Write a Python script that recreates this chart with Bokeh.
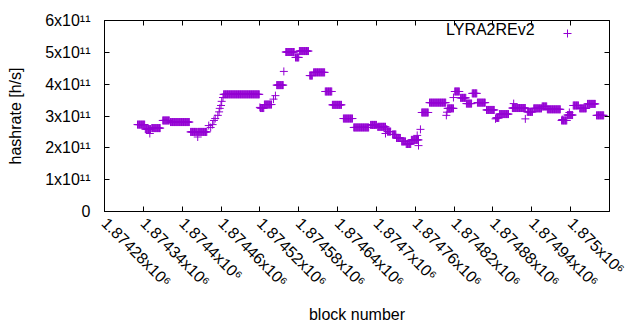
import math
from bokeh.plotting import figure
from bokeh.models import (ColumnDataSource, FixedTicker, LinearAxis, Legend,
                          LegendItem, Range1d, CustomLabelingPolicy, Label)
from bokeh.embed import file_html
from bokeh.resources import INLINE

# ---- data: runs of consecutive blocks sharing one hashrate ----
run_first_block = [
    1874331, 1874343, 1874350, 1874353, 1874370, 1874382, 1874413, 1874424, 1874424,
    1874441, 1874444, 1874447, 1874449, 1874451, 1874455, 1874457, 1874458, 1874460,
    1874461, 1874463, 1874464, 1874520, 1874521, 1874527, 1874541, 1874544, 1874546,
    1874557, 1874560, 1874575, 1874581, 1874597, 1874603, 1874621, 1874632, 1874649,
    1874665, 1874691, 1874702, 1874714, 1874716, 1874717, 1874725, 1874731, 1874739,
    1874746, 1874754, 1874763, 1874765, 1874768, 1874770, 1874782, 1874808, 1874809,
    1874810, 1874819, 1874821, 1874830, 1874839, 1874848, 1874856, 1874870, 1874884,
    1874885, 1874890, 1874912, 1874910, 1874930, 1874933, 1874943, 1874956, 1874964,
    1874987, 1874986, 1874998, 1874995, 1875004, 1875014, 1875026, 1875040,
]
run_last_block = [
    1874342, 1874351, 1874350, 1874366, 1874380, 1874411, 1874422, 1874424, 1874438,
    1874441, 1874444, 1874447, 1874449, 1874451, 1874455, 1874457, 1874458, 1874460,
    1874461, 1874463, 1874519, 1874520, 1874526, 1874538, 1874541, 1874544, 1874556,
    1874557, 1874573, 1874580, 1874595, 1874601, 1874620, 1874631, 1874646, 1874663,
    1874688, 1874700, 1874714, 1874714, 1874716, 1874722, 1874730, 1874737, 1874745,
    1874753, 1874765, 1874763, 1874765, 1874768, 1874780, 1874807, 1874808, 1874809,
    1874819, 1874819, 1874828, 1874838, 1874847, 1874855, 1874868, 1874882, 1874884,
    1874889, 1874904, 1874912, 1874930, 1874930, 1874941, 1874955, 1874963, 1874984,
    1874987, 1874994, 1874998, 1875003, 1875012, 1875024, 1875038, 1875051,
]
run_hashrate = [
    2.73e11, 2.59e11, 2.45e11, 2.62e11, 2.86e11, 2.81e11, 2.50e11, 2.34e11, 2.50e11,
    2.70e11, 2.64e11, 2.73e11, 2.86e11, 2.92e11, 3.02e11, 3.13e11, 3.24e11, 3.33e11,
    3.46e11, 3.58e11, 3.68e11, 3.27e11, 3.25e11, 3.36e11, 3.53e11, 3.64e11, 3.97e11,
    4.40e11, 5.01e11, 4.84e11, 5.04e11, 4.27e11, 4.37e11, 3.77e11, 3.35e11, 2.92e11,
    2.64e11, 2.72e11, 2.66e11, 2.45e11, 2.59e11, 2.51e11, 2.42e11, 2.31e11, 2.20e11,
    2.12e11, 2.25e11, 2.39e11, 2.07e11, 2.58e11, 3.11e11, 3.42e11, 3.02e11, 3.12e11,
    3.24e11, 3.58e11, 3.77e11, 3.57e11, 3.39e11, 3.71e11, 3.42e11, 3.19e11, 2.91e11,
    2.94e11, 3.06e11, 3.39e11, 3.25e11, 2.91e11, 3.13e11, 3.24e11, 3.30e11, 3.21e11,
    2.89e11, 2.86e11, 3.11e11, 3.03e11, 3.33e11, 3.24e11, 3.38e11, 3.02e11,
]

x_tick_blocks = [1874280, 1874340, 1874400, 1874460, 1874520, 1874580, 1874640,
                 1874700, 1874760, 1874820, 1874880, 1874940, 1875000, 1875060]
x_tick_labels = ["1.87428x10⁶", "1.87434x10⁶", "1.8744x10⁶", "1.87446x10⁶",
                 "1.87452x10⁶", "1.87458x10⁶", "1.87464x10⁶", "1.8747x10⁶",
                 "1.87476x10⁶", "1.87482x10⁶", "1.87488x10⁶", "1.87494x10⁶",
                 "1.875x10⁶", "1.87506x10⁶"]
y_tick_values = [0, 100000000000, 200000000000, 300000000000, 400000000000,
                 500000000000, 600000000000]
y_tick_labels = ["0", "1x10¹¹", "2x10¹¹", "3x10¹¹", "4x10¹¹", "5x10¹¹", "6x10¹¹"]

series_name = "LYRA2REv2"
x_title = "block number"
y_title = "hashrate [h/s]"

# expand runs into one point per block
blocks, rates = [], []
for f, l, h in zip(run_first_block, run_last_block, run_hashrate):
    for b in range(f, l + 1):
        blocks.append(b)
        rates.append(h)
src = ColumnDataSource(data=dict(block=blocks, rate=rates))

FONT = "Liberation Sans"
FS = "16px"
COLOR = "#9400D3"
ANGLE = -math.pi / 4

p = figure(width=640, height=330, output_backend="svg", toolbar_location=None,
           x_range=Range1d(x_tick_blocks[0], x_tick_blocks[-1]),
           y_range=Range1d(y_tick_values[0], y_tick_values[-1]),
           min_border_left=104, min_border_right=31, min_border_top=20,
           min_border_bottom=119)
p.outline_line_color = "black"
p.outline_line_alpha = 1
p.outline_line_width = 1
p.xgrid.visible = False
p.ygrid.visible = False
p.background_fill_color = "white"
p.border_fill_color = "white"

r = p.scatter(x="block", y="rate", source=src, marker="cross", size=8,
              line_color=COLOR, line_width=1)

def style_axis(ax):
    ax.major_tick_in = 5
    ax.major_tick_out = 0
    ax.minor_tick_line_color = None
    ax.axis_line_color = "black"
    ax.major_tick_line_color = "black"
    ax.major_label_text_font = FONT
    ax.major_label_text_font_size = FS
    ax.major_label_text_color = "black"
    ax.axis_label_text_font = FONT
    ax.axis_label_text_font_size = FS
    ax.axis_label_text_font_style = "normal"
    ax.axis_label_text_color = "black"

xa = p.xaxis[0]
ya = p.yaxis[0]
style_axis(xa)
style_axis(ya)
# bottom axis labels all ticks but the last (which sits at the canvas edge)
xa.ticker = FixedTicker(ticks=x_tick_blocks[:-1])
xa.major_label_overrides = dict(zip(x_tick_blocks[:-1], x_tick_labels[:-1]))
xa.major_label_orientation = ANGLE
xa.major_label_standoff = 9
xa.axis_label = x_title
xa.axis_label_standoff = 7
ya.ticker = FixedTicker(ticks=y_tick_values)
ya.major_label_overrides = dict(zip(y_tick_values, y_tick_labels))
ya.major_label_standoff = 14
ya.axis_label = y_title
ya.axis_label_standoff = 18

# last x tick label, running off the right edge as in the reference
last_lbl = Label(x=x_tick_blocks[-1], y=-9, y_units="screen",
                 text=x_tick_labels[-1], angle=ANGLE, text_align="left",
                 text_baseline="middle", text_font=FONT, text_font_size=FS,
                 text_color="black")
p.add_layout(last_lbl)

# mirrored ticks (no labels) on top and right borders
top = LinearAxis(ticker=FixedTicker(ticks=x_tick_blocks))
right = LinearAxis(ticker=FixedTicker(ticks=y_tick_values))
for ax in (top, right):
    ax.major_tick_in = 5
    ax.major_tick_out = 0
    ax.minor_tick_line_color = None
    ax.axis_line_color = None
    ax.major_tick_line_color = "black"
    ax.major_label_text_font_size = "2px"
    ax.major_label_standoff = 0
    ax.major_label_policy = CustomLabelingPolicy(code="return []")
p.add_layout(top, "above")
p.add_layout(right, "right")

# key: text then sample, as in the reference
leg_text = Legend(items=[LegendItem(label=series_name, renderers=[r])],
                  location=(342, 172), glyph_width=0, glyph_height=16,
                  label_height=16, label_standoff=0, padding=0, margin=0,
                  border_line_color=None, background_fill_alpha=0,
                  label_text_font=FONT, label_text_font_size=FS,
                  label_text_color="black")
leg_mark = Legend(items=[LegendItem(label=" ", renderers=[r])],
                  location=(453, 168), glyph_width=20, glyph_height=20,
                  label_width=0, label_height=20, label_standoff=0, padding=0,
                  margin=0, border_line_color=None, background_fill_alpha=0,
                  label_text_font=FONT, label_text_font_size=FS)
p.add_layout(leg_text)
p.add_layout(leg_mark)

open("out.html", "w").write(file_html(p, INLINE))
